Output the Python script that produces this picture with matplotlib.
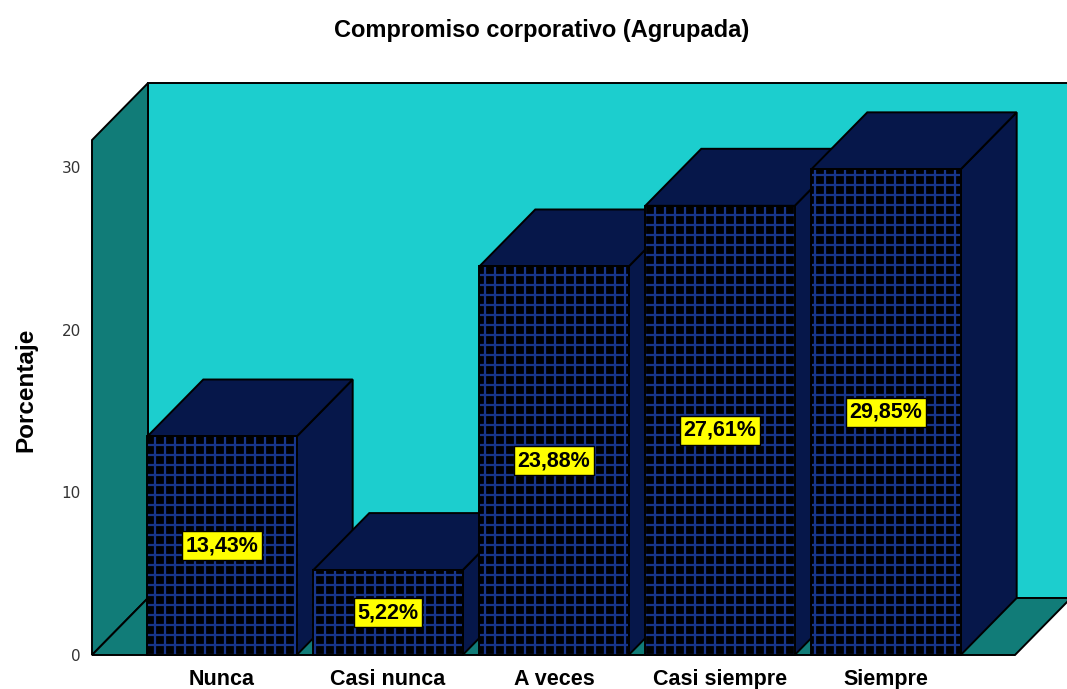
import matplotlib
matplotlib.use("Agg")
import matplotlib.pyplot as plt
from matplotlib.patches import Polygon
import numpy as np

categories = ["Nunca", "Casi nunca", "A veces", "Casi siempre", "Siempre"]
values = [13.43, 5.22, 23.88, 27.61, 29.85]
value_labels = ["13,43%", "5,22%", "23,88%", "27,61%", "29,85%"]
yticks = [0, 10, 20, 30]
title = "Compromiso corporativo (Agrupada)"
ylabel = "Porcentaje"

CYAN = "#1ccece"
TEAL = "#117c78"
NAVY = "#06174a"
HATCH = "#17358a"
BOLDF = ["Liberation Sans", "DejaVu Sans"]

DPI = 60
S = 100 / DPI  # point scaling so sizes match a 100-dpi layout

plt.rcParams["hatch.linewidth"] = 1.6 * S

fig = plt.figure(figsize=(1067 / DPI, 689 / DPI), dpi=DPI)
ax = fig.add_axes([92/1067, 34/689, 975/1067, 573/689])
ax.set_xlim(-0.7831, 5.0904)
ax.set_ylim(0, 35.218)
for s in ax.spines.values():
    s.set_visible(False)

DX, DY = 0.3373, 3.503
x_left = -0.7831
x_right = 4.777
y_top = 31.65
ec = "black"
lw = 1.4 * S

# back wall
ax.add_patch(Polygon([(x_left+DX, DY), (x_right+DX+0.5, DY), (x_right+DX+0.5, y_top+DY), (x_left+DX, y_top+DY)],
                     closed=True, facecolor=CYAN, edgecolor=ec, lw=lw, clip_on=False, zorder=1))
# left wall
ax.add_patch(Polygon([(x_left, 0), (x_left+DX, DY), (x_left+DX, y_top+DY), (x_left, y_top)],
                     closed=True, facecolor=TEAL, edgecolor=ec, lw=lw, clip_on=False, zorder=2))
# floor
ax.add_patch(Polygon([(x_left, 0), (x_right, 0), (x_right+DX, DY), (x_left+DX, DY)],
                     closed=True, facecolor=TEAL, edgecolor=ec, lw=lw, clip_on=False, zorder=2))

x = np.arange(len(categories))
w = 0.9
for i, (xi, v) in enumerate(zip(x, values)):
    z = 10 + i * 5
    l, r = xi - w/2, xi + w/2
    # side
    ax.add_patch(Polygon([(r, 0), (r+DX, DY), (r+DX, v+DY), (r, v)], closed=True,
                         facecolor=NAVY, edgecolor=ec, lw=lw, clip_on=False, zorder=z))
    # top
    ax.add_patch(Polygon([(l, v), (r, v), (r+DX, v+DY), (l+DX, v+DY)], closed=True,
                         facecolor=NAVY, edgecolor=ec, lw=lw, clip_on=False, zorder=z))
    # front
    ax.bar(xi, v, width=w, color="black", edgecolor="black", lw=0, zorder=z+1, clip_on=False)
    ax.bar(xi, v, width=w, fill=False, hatch="+", edgecolor=HATCH, lw=0, zorder=z+2, clip_on=False)
    ax.bar(xi, v, width=w, fill=False, edgecolor="black", lw=lw, zorder=z+3, clip_on=False)
    ax.text(xi, v/2, value_labels[i], ha="center", va="center", fontsize=15.5 * S, fontweight="bold",
            family=BOLDF, zorder=z+4,
            bbox=dict(boxstyle="square,pad=0.18", facecolor="#ffff00", edgecolor="black", lw=1 * S))

ax.set_yticks(yticks)
ax.set_yticklabels([str(t) for t in yticks])
ax.tick_params(axis="y", length=0, pad=8 * S, labelsize=11 * S, labelcolor="#333333")
ax.set_xticks(x)
ax.set_xticklabels(categories, fontsize=15.5 * S, fontweight="bold", family=BOLDF)
ax.tick_params(axis="x", length=0, pad=10 * S)
ax.set_ylabel(ylabel, fontsize=17.5 * S, fontweight="bold", family=BOLDF)
ax.yaxis.set_label_coords(-0.056, 0.462)
fig.text(0.508, 0.956, title, ha="center", va="center", fontsize=17 * S, fontweight="bold", family=BOLDF)

fig.savefig("out.png", dpi=DPI)
